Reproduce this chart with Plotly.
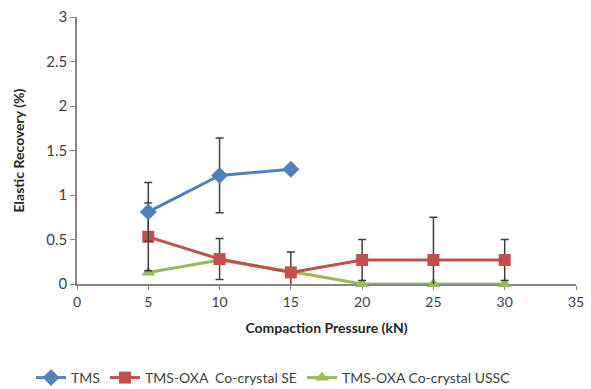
import plotly.graph_objects as go

pressure = [5, 10, 15, 20, 25, 30]
tms_x = [5, 10, 15]
tms = [0.81, 1.22, 1.29]
tms_err = [0.33, 0.42, 0]
se = [0.53, 0.28, 0.13, 0.27, 0.27, 0.27]
se_err = [0.38, 0.23, 0.23, 0.23, 0.48, 0.23]
ussc = [0.13, 0.27, 0.14, 0.0, 0.0, 0.0]
ussc_err = [0, 0, 0, 0.01, 0.01, 0.01]

x_ticks = [0, 5, 10, 15, 20, 25, 30, 35]
y_ticks = [0, 0.5, 1, 1.5, 2, 2.5, 3]
y_labels = ["0", "0.5", "1", "1.5", "2", "2.5", "3"]

FONT = "Lato, 'Open Sans', sans-serif"
ERRC = "#404040"

fig = go.Figure()

fig.add_trace(go.Scatter(
    x=pressure, y=ussc, name="TMS-OXA Co-crystal USSC", mode="lines+markers",
    line=dict(color="#9BBB59", width=3),
    marker=dict(symbol="triangle-up", size=12, color="#9BBB59"),
    error_y=dict(type="data", array=ussc_err, visible=True, color=ERRC, thickness=1.5, width=3),
    cliponaxis=False,
))
fig.add_trace(go.Scatter(
    x=pressure, y=se, name="TMS-OXA  Co-crystal SE", mode="lines+markers",
    line=dict(color="#C0504D", width=3),
    marker=dict(symbol="square", size=12, color="#C0504D"),
    error_y=dict(type="data", array=se_err, visible=True, color=ERRC, thickness=1.5, width=4),
    cliponaxis=True,
))
fig.add_trace(go.Scatter(
    x=tms_x, y=tms, name="TMS", mode="lines+markers",
    line=dict(color="#4F81BD", width=3),
    marker=dict(symbol="diamond", size=13, color="#4F81BD"),
    error_y=dict(type="data", array=tms_err, visible=True, color=ERRC, thickness=1.5, width=4),
    cliponaxis=False,
))

fig.update_layout(
    width=591, height=389,
    margin=dict(l=77, r=15, t=17, b=105, autoexpand=False),
    paper_bgcolor="white", plot_bgcolor="white",
    font=dict(family=FONT, size=13, color="#404040"),
    showlegend=True,
    legend=dict(orientation="h", x=-0.092, xanchor="left", y=-0.352, yanchor="middle",
                traceorder="reversed", font=dict(size=14, color="#404040"),
                itemwidth=30),
    xaxis=dict(range=[0, 35], tickvals=x_ticks, showgrid=False, zeroline=False,
               showline=True, linecolor="#868686", linewidth=1.5, layer="below traces",
               ticks="outside", ticklen=4, tickcolor="#868686",
               title=dict(text="<b>Compaction Pressure (kN)</b>", font=dict(size=14, color="#262626"), standoff=15),
               tickfont=dict(size=14, color="#404040")),
    yaxis=dict(range=[0, 3], tickvals=y_ticks, ticktext=y_labels, showgrid=False, zeroline=False,
               showline=True, linecolor="#868686", linewidth=1.5, layer="below traces",
               ticks="outside", ticklen=5, tickcolor="#868686",
               title=dict(text="<b>Elastic Recovery (%)</b>", font=dict(size=14, color="#262626"), standoff=18),
               tickfont=dict(size=15, color="#404040")),
)

fig.write_html("out.html")
